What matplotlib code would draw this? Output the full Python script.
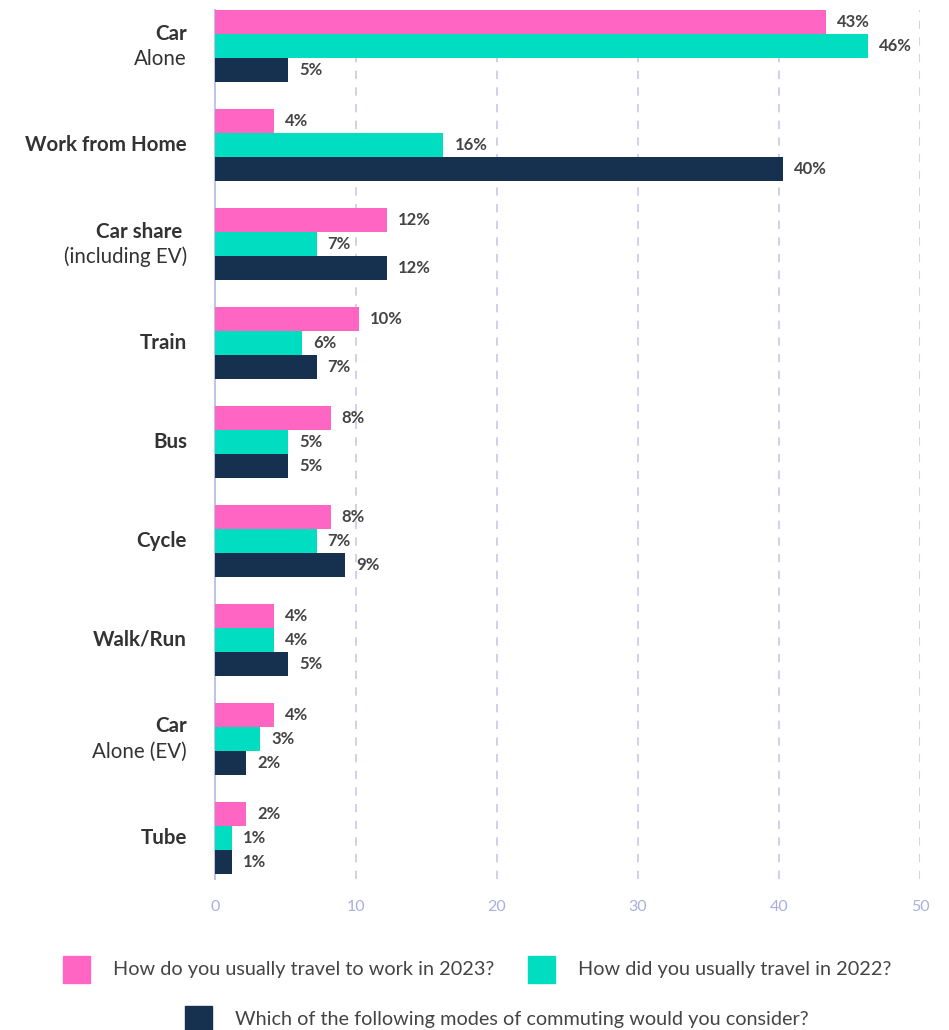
import numpy as np
import matplotlib.pyplot as plt
from matplotlib.patches import Rectangle
from matplotlib import transforms

plt.rcParams['font.family'] = ['Lato', 'DejaVu Sans']

# category labels: (bold first line, regular second line)
categories = [
    ("Car", "Alone"),
    ("Work from Home", ""),
    ("Car share ", "(including EV)"),
    ("Train", ""),
    ("Bus", ""),
    ("Cycle", ""),
    ("Walk/Run", ""),
    ("Car", "Alone (EV)"),
    ("Tube", ""),
]
usual_2023 = [43.3, 4.2, 12.2, 10.2, 8.2, 8.2, 4.2, 4.2, 2.2]
usual_2022 = [46.3, 16.2, 7.2, 6.2, 5.2, 7.2, 4.2, 3.2, 1.2]
would_consider = [5.2, 40.3, 12.2, 7.2, 5.2, 9.2, 5.2, 2.2, 1.2]

series_names = [
    "How do you usually travel to work in 2023?",
    "How did you usually travel in 2022?",
    "Which of the following modes of commuting would you consider?",
]
colors = ["#FF66C4", "#00DDC0", "#16304F"]
x_ticks = [0, 10, 20, 30, 40, 50]

W, H = 949, 1030
fig = plt.figure(figsize=(W / 100, H / 100), dpi=100)
ax = fig.add_axes([215 / W, 1 - 879 / H, (920 - 215) / W, (879 - 10) / H])

y = np.arange(len(categories))
bh = 0.243
for i, (vals, col) in enumerate(zip([usual_2023, usual_2022, would_consider], colors)):
    bars = ax.barh(y + (i - 1) * bh, vals, height=bh, color=col, zorder=3)
    ax.bar_label(bars, labels=[f"{round(v)}%" for v in vals], padding=8,
                 fontsize=12, fontweight='bold', color='#444444')

ax.set_ylim(len(categories) - 1 + 0.415, -0.365)
ax.set_xlim(0, 50)
ax.set_xticks(x_ticks)
ax.set_xticklabels([str(t) for t in x_ticks])
ax.tick_params(axis='x', length=0, pad=15, labelsize=11.5, labelcolor='#A9AEE0')
ax.tick_params(axis='y', length=0, labelleft=False)
ax.set_yticks([])
ax.grid(axis='x', linestyle=(0, (5, 5)), color='#C8CAE6', linewidth=1.2, zorder=0)
for s in ['top', 'right', 'bottom']:
    ax.spines[s].set_visible(False)
ax.spines['left'].set_color('#C0C4E8')
ax.spines['left'].set_linewidth(1.5)

# category labels, right aligned left of the axis
trans = transforms.blended_transform_factory(ax.transAxes, ax.transData)
off = transforms.offset_copy(trans, fig=fig, x=-28, y=0, units='dots')
for yi, (first, second) in zip(y, categories):
    if second:
        t1 = transforms.offset_copy(trans, fig=fig, x=-28, y=12.5, units='dots')
        t2 = transforms.offset_copy(trans, fig=fig, x=-28, y=-12.5, units='dots')
        ax.text(0, yi, first, transform=t1, ha='right', va='center',
                fontsize=14.8, fontweight='bold', color='#333333')
        ax.text(0, yi, second, transform=t2, ha='right', va='center',
                fontsize=14.8, color='#333333')
    else:
        ax.text(0, yi, first, transform=off, ha='right', va='center',
                fontsize=14.8, fontweight='bold', color='#333333')

# legend
legend_items = [(63, 956, 113), (528, 956, 578), (185, 1006, 235)]
for (sx, sy, tx), name, col in zip(legend_items, series_names, colors):
    fig.patches.append(Rectangle((sx / W, 1 - (sy + 27) / H), 27 / W, 27 / H,
                                 transform=fig.transFigure, color=col))
    fig.text(tx / W, 1 - (sy + 14) / H, name, ha='left', va='center',
             fontsize=14.3, color='#444444')

fig.savefig('out.png', dpi=100)
